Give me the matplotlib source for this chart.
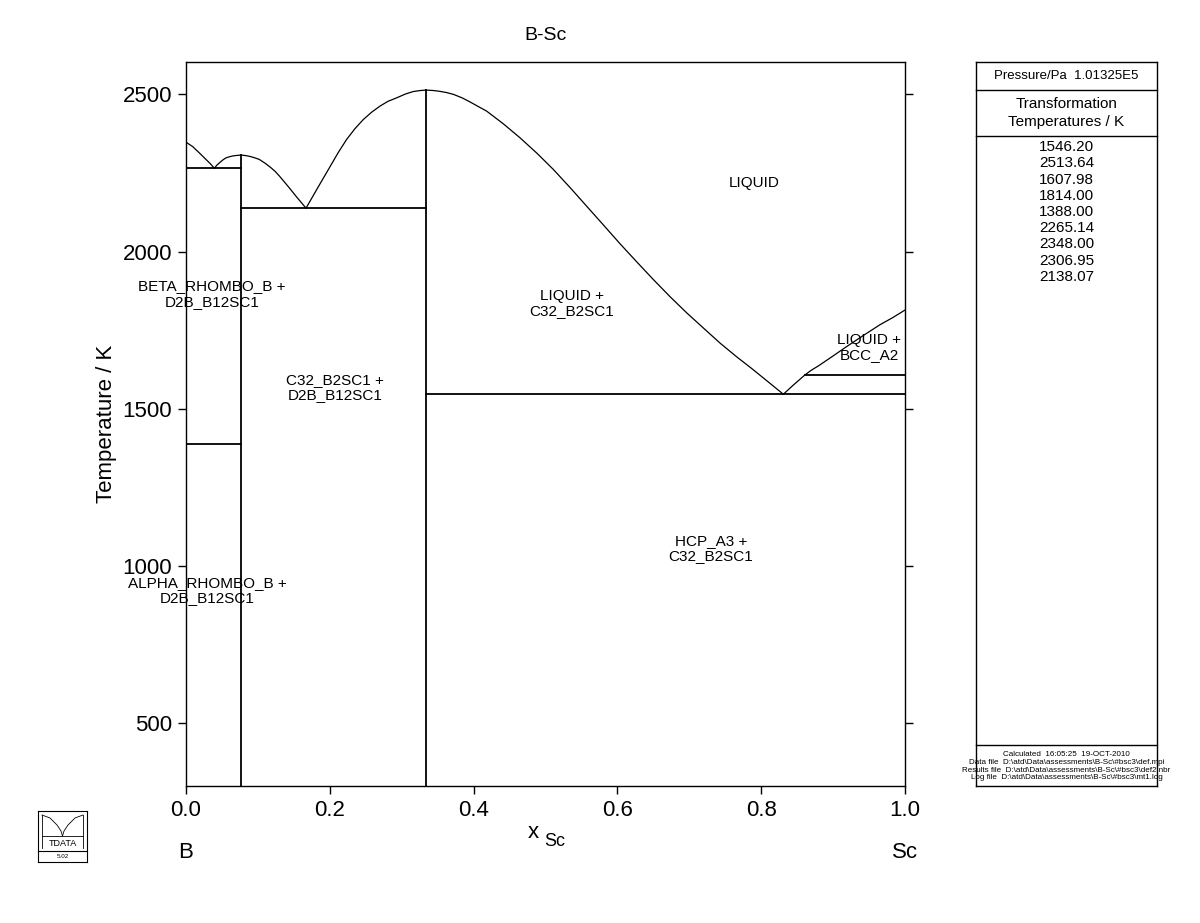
import matplotlib
matplotlib.use("Agg")
import matplotlib.pyplot as plt
from matplotlib.lines import Line2D

plt.rcParams['font.family'] = ['Liberation Sans', 'DejaVu Sans']

# ---- data ----
x_B12Sc = 1.0 / 13.0
x_B2Sc = 1.0 / 3.0

liq_B_x = [0.0, 0.0092, 0.0185, 0.0278, 0.0336, 0.0394]
liq_B_T = [2348.0, 2334, 2314, 2293, 2280, 2265.14]
liq_B12a_x = [0.0394, 0.0430, 0.0464, 0.0510, 0.0556, 0.0610, 0.066, 0.0715, 0.0769]
liq_B12a_T = [2265.14, 2275, 2282, 2291, 2298, 2302, 2304.5, 2306, 2306.95]
liq_B12b_x = [0.0769, 0.084, 0.09, 0.096, 0.102, 0.110, 0.118, 0.124, 0.130, 0.137, 0.145, 0.153, 0.160, 0.1669]
liq_B12b_T = [2306.95, 2305, 2302, 2298, 2293, 2281, 2267, 2255, 2240, 2221, 2199, 2176, 2157, 2138.07]
liq_B2a_x = [0.1669, 0.184, 0.2003, 0.212, 0.2235, 0.235, 0.2466, 0.258, 0.270, 0.281, 0.293, 0.305, 0.316, 0.325, 0.3333]
liq_B2a_T = [2138.07, 2206, 2270, 2316, 2357, 2391, 2420, 2443, 2463, 2478, 2489, 2501, 2509, 2512, 2513.64]
liq_B2b_x = [0.3333, 0.343, 0.352, 0.362, 0.372, 0.384, 0.395, 0.406, 0.418, 0.441, 0.4645, 0.488, 0.511,
             0.534, 0.557, 0.580, 0.6036, 0.627, 0.650, 0.673, 0.6964, 0.720, 0.7427, 0.766, 0.789, 0.810, 0.8308]
liq_B2b_T = [2513.64, 2512.5, 2510, 2506, 2500, 2489, 2476, 2462, 2447, 2407, 2362, 2313, 2261,
             2204, 2145, 2086, 2025, 1967, 1911, 1857, 1805, 1756, 1709, 1665, 1624, 1585, 1546.2]
liq_Sc_x = [0.8308, 0.846, 0.861, 0.870, 0.88, 0.90, 0.919, 0.942, 0.965, 0.983, 1.0]
liq_Sc_T = [1546.2, 1578, 1608, 1623, 1637, 1668, 1698, 1733, 1767, 1790, 1814.0]

# invariant horizontal lines: (x_start, x_end, T)
inv_x0 = [0.0, x_B12Sc, x_B2Sc, 0.861, 0.0]
inv_x1 = [x_B12Sc, x_B2Sc, 1.0, 1.0, x_B12Sc]
inv_T = [2265.14, 2138.07, 1546.20, 1607.98, 1388.00]

# compound verticals
comp_x = [x_B12Sc, x_B2Sc]
comp_T = [2306.95, 2513.64]

T_min, T_max = 300, 2603
x_ticks = [0.0, 0.2, 0.4, 0.6, 0.8, 1.0]
x_tick_labels = ['0.0', '0.2', '0.4', '0.6', '0.8', '1.0']
y_ticks = [500, 1000, 1500, 2000, 2500]

region_labels = [
    ("LIQUID", 0.79, 2218),
    ("LIQUID +\nC32_B2SC1", 0.537, 1835),
    ("LIQUID +\nBCC_A2", 0.95, 1695),
    ("BETA_RHOMBO_B +\nD2B_B12SC1", 0.036, 1865),
    ("C32_B2SC1 +\nD2B_B12SC1", 0.207, 1568),
    ("HCP_A3 +\nC32_B2SC1", 0.73, 1055),
    ("ALPHA_RHOMBO_B +\nD2B_B12SC1", 0.03, 921),
]

trans_temps = ["1546.20", "2513.64", "1607.98", "1814.00", "1388.00",
               "2265.14", "2348.00", "2306.95", "2138.07"]
calc_lines = ["Calculated  16:05:25  19-OCT-2010",
              "Data file  D:\\atd\\Data\\assessments\\B-Sc\\#bsc3\\def.mpi",
              "Results file  D:\\atd\\Data\\assessments\\B-Sc\\#bsc3\\def2.nbr",
              "Log file  D:\\atd\\Data\\assessments\\B-Sc\\#bsc3\\mt1.log"]

W, H = 1200, 923
fig = plt.figure(figsize=(12, 9.23), dpi=100)

def fx(px):
    return px / W

def fy(py):
    return 1 - py / H

ax = fig.add_axes([fx(186), fy(786), fx(905) - fx(186), fy(62) - fy(786)])
lw = 0.9
for xs, ts in [(liq_B_x, liq_B_T), (liq_B12a_x, liq_B12a_T), (liq_B12b_x, liq_B12b_T),
               (liq_B2a_x, liq_B2a_T), (liq_B2b_x, liq_B2b_T), (liq_Sc_x, liq_Sc_T)]:
    ax.plot(xs, ts, color='black', lw=lw)
for a, b, t in zip(inv_x0, inv_x1, inv_T):
    ax.plot([a, b], [t, t], color='black', lw=1.3)
for cx, ct in zip(comp_x, comp_T):
    ax.plot([cx, cx], [T_min, ct], color='black', lw=1.3)

ax.set_xlim(0, 1)
ax.set_ylim(T_min, T_max)
ax.set_xticks(x_ticks)
ax.set_xticklabels(x_tick_labels)
ax.set_yticks(y_ticks)
ax.tick_params(axis='both', direction='out', length=6, width=1, labelsize=16,
               right=True, top=False, left=True, bottom=True, pad=4)
for s in ax.spines.values():
    s.set_linewidth(1.0)
ax.set_ylabel("Temperature / K", fontsize=16, labelpad=4)

for txt, x, t in region_labels:
    ax.text(x, t, txt, ha='center', va='center', fontsize=11, linespacing=1.1)

# title and axis texts
fig.text(fx(545), fy(35), "B-Sc", ha='center', va='center', fontsize=14)
fig.text(fx(533), fy(833), "x", ha='center', va='center', fontsize=16)
fig.text(fx(544), fy(842), "Sc", ha='left', va='center', fontsize=13)
fig.text(fx(186), fy(853), "B", ha='center', va='center', fontsize=16)
fig.text(fx(905), fy(853), "Sc", ha='center', va='center', fontsize=16)

# right info panel
def fline(x0, y0, x1, y1, lw=1.0):
    fig.add_artist(Line2D([fx(x0), fx(x1)], [fy(y0), fy(y1)], color='black', lw=lw))

bx0, bx1, by0, by1 = 976, 1157, 62, 786
fline(bx0, by0, bx1, by0)
fline(bx0, by1, bx1, by1)
fline(bx0, by0, bx0, by1)
fline(bx1, by0, bx1, by1)
fline(bx0, 90, bx1, 90)
fline(bx0, 136, bx1, 136)
fline(bx0, 745, bx1, 745)
cx = (bx0 + bx1) / 2
fig.text(fx(cx), fy(76), "Pressure/Pa  1.01325E5", ha='center', va='center', fontsize=9.5)
fig.text(fx(cx), fy(104), "Transformation", ha='center', va='center', fontsize=11)
fig.text(fx(cx), fy(122), "Temperatures / K", ha='center', va='center', fontsize=11)
for i, s in enumerate(trans_temps):
    fig.text(fx(cx), fy(147 + i * 16.25), s, ha='center', va='center', fontsize=11)
for i, s in enumerate(calc_lines):
    fig.text(fx(cx), fy(755 + i * 7.5), s, ha='center', va='center', fontsize=5.8)

# logo
lx0, lx1, ly0, ly1 = 38, 87, 811, 862
fline(lx0, ly0, lx1, ly0, 0.8)
fline(lx0, ly1, lx1, ly1, 0.8)
fline(lx0, ly0, lx0, ly1, 0.8)
fline(lx1, ly0, lx1, ly1, 0.8)
fline(lx0, 851, lx1, 851, 0.8)
fline(42, 836, 83, 836, 0.6)
fline(42, 815, 42, 848, 0.6)
fline(83, 815, 83, 848, 0.6)
fig.add_artist(Line2D([fx(42), fx(50), fx(57), fx(61), fx(62.5)],
                      [fy(815), fy(818), fy(825), fy(831), fy(836)], color='black', lw=0.6))
fig.add_artist(Line2D([fx(62.5), fx(64), fx(68), fx(75), fx(83)],
                      [fy(836), fy(831), fy(825), fy(818), fy(815)], color='black', lw=0.6))
fig.text(fx(62.5), fy(843), "TDATA", ha='center', va='center', fontsize=6.5)
fig.text(fx(62.5), fy(856.5), "5.02", ha='center', va='center', fontsize=4.5)

fig.savefig("out.png", dpi=100)
